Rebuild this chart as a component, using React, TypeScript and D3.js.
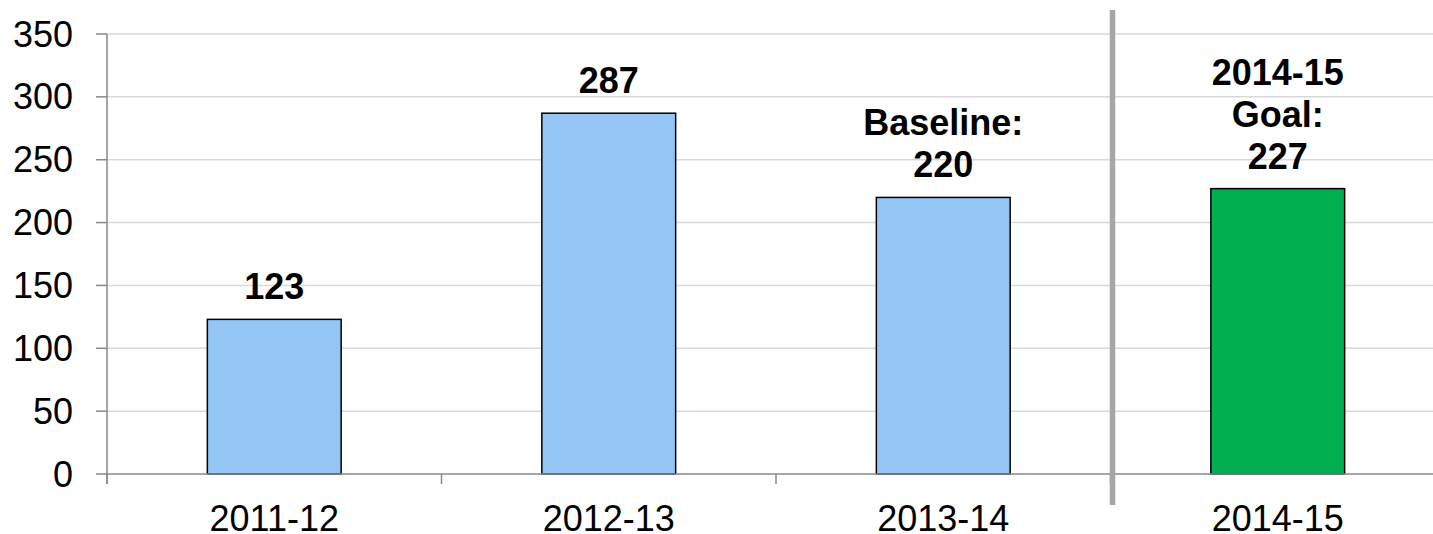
import React from "react";
import * as d3 from "d3";

const categories = ["2011-12", "2012-13", "2013-14", "2014-15"];
const values = [123, 287, 220, 227];
const labelLines = [["123"], ["287"], ["Baseline:", "220"], ["2014-15", "Goal:", "227"]];
const isGoal = [false, false, false, true];
const yTicks = [0, 50, 100, 150, 200, 250, 300, 350];

const W = 1433;
const H = 534;
const left = 107;
const top = 34;
const bottom = 474;
const step = 334.5;

export default function App() {
  const x = d3
    .scaleBand<string>()
    .domain(categories)
    .range([left, left + step * categories.length])
    .paddingInner(0.6)
    .paddingOuter(0.3);
  const y = d3.scaleLinear().domain([0, 350]).range([bottom, top]);
  const font = "'Liberation Sans', Arial, sans-serif";
  const boundaries = categories.map((_, i) => left + i * x.step());
  const sepX = (x("2014-15") as number) - (x.step() * x.paddingInner()) / 2 + 2;

  return (
    <svg
      width={W}
      height={H}
      style={{ position: "absolute", left: 0, top: 0, background: "#fff" }}
      fontFamily={font}
    >
      {yTicks
        .filter((t) => t > 0)
        .map((t) => (
          <line key={"g" + t} x1={left} x2={W} y1={y(t)} y2={y(t)} stroke="#d9d9d9" strokeWidth={1.5} />
        ))}
      {categories.map((c, i) => (
        <rect
          key={c}
          x={x(c)}
          y={y(values[i])}
          width={x.bandwidth()}
          height={y(0) - y(values[i])}
          fill={isGoal[i] ? "#00b050" : "#93c5f5"}
          stroke="#000"
          strokeWidth={1.5}
        />
      ))}
      {/* axes */}
      <line x1={left} x2={left} y1={top} y2={bottom + 10} stroke="#898989" strokeWidth={1.5} />
      <line x1={left} x2={W} y1={bottom} y2={bottom} stroke="#898989" strokeWidth={1.5} />
      {yTicks.map((t) => (
        <g key={"t" + t}>
          <line x1={left - 11} x2={left} y1={y(t)} y2={y(t)} stroke="#898989" strokeWidth={1.5} />
          <text x={73} y={y(t)} dy="0.35em" textAnchor="end" fontSize={36} fill="#000">
            {t}
          </text>
        </g>
      ))}
      {boundaries.map((b, i) => (
        <line key={"b" + i} x1={b} x2={b} y1={bottom} y2={bottom + 10} stroke="#898989" strokeWidth={1.5} />
      ))}
      {categories.map((c) => (
        <text
          key={"x" + c}
          x={(x(c) as number) + x.bandwidth() / 2}
          y={531}
          textAnchor="middle"
          fontSize={36}
          fill="#000"
        >
          {c}
        </text>
      ))}
      {categories.map((c, i) => {
        const lines = labelLines[i];
        const cx = (x(c) as number) + x.bandwidth() / 2;
        const base = y(values[i]) - 20;
        return (
          <text key={"l" + c} textAnchor="middle" fontSize={36} fontWeight="bold" fill="#000">
            {lines.map((ln, j) => (
              <tspan key={j} x={cx} y={base - (lines.length - 1 - j) * 42}>
                {ln}
              </tspan>
            ))}
          </text>
        );
      })}
      <rect x={sepX - 2.75} y={10} width={5.5} height={495} fill="#a6a6a6" />
    </svg>
  );
}
